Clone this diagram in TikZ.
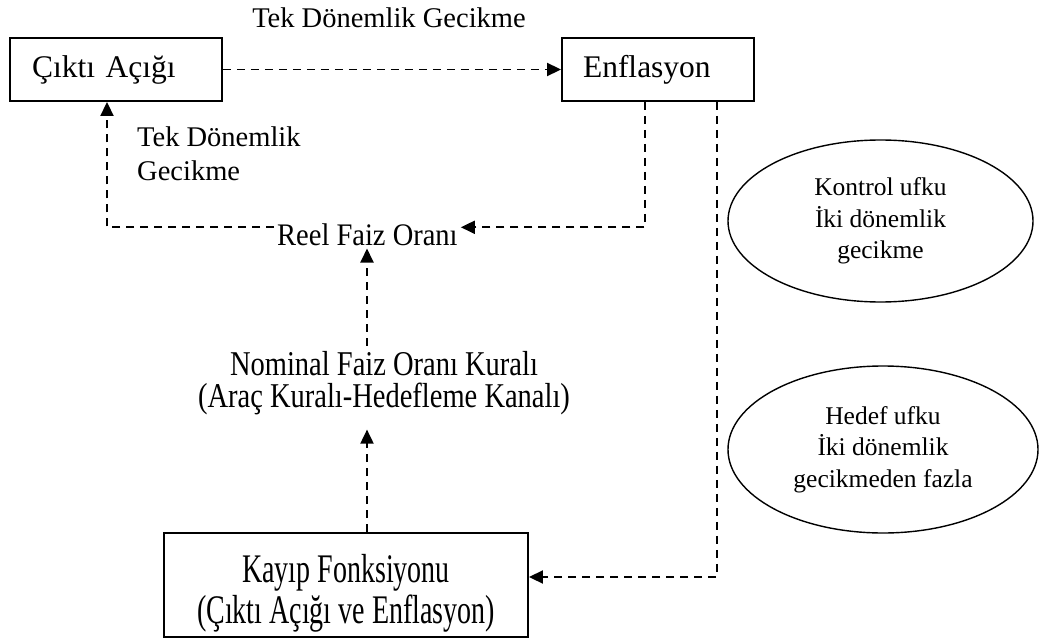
\documentclass[tikz,border=0pt]{standalone}
\usepackage{fontspec}
\setmainfont{Liberation Serif}
\usetikzlibrary{arrows.meta,shapes.geometric}
\tikzset{
  conn/.style={line width=1.9pt, dash pattern=on 8pt off 6pt, -{Triangle[length=14pt,width=13pt]}},
  boxa/.style={draw, line width=1.9pt, rectangle, inner ysep=0pt, align=left},
  txt/.style={inner sep=3pt, font=\fontsize{28.5}{33}\selectfont},
  ell/.style={draw, line width=1.4pt, ellipse, inner sep=0pt, align=center, font=\fontsize{25.5}{31.5}\selectfont}
}
\newcommand{\vstr}[2]{\scalebox{1}[#1]{#2}}
\begin{document}
\begin{tikzpicture}[x=1pt,y=1pt]
\useasboundingbox (0,0) rectangle (1043,-639);
% boxes
\node[boxa, inner xsep=22pt, text width=168pt, minimum height=63pt, font=\fontsize{31.5}{36}\selectfont] (cikti) at (116,-69.5) {Çıktı Açığı};
\node[boxa, inner xsep=21pt, text width=150pt, minimum height=63pt, font=\fontsize{31.5}{36}\selectfont] (enf) at (658,-69.5) {Enflasyon};
\node[boxa, align=center, minimum width=364pt, minimum height=104pt, inner xsep=0pt, font=\fontsize{28}{41}\selectfont] (kayip) at (346,-585) {\rule{0pt}{44pt}\vstr{1.45}{Kayıp Fonksiyonu}\\\vstr{1.45}{(Çıktı Açığı ve Enflasyon)}};
% text labels
\node[txt, anchor=base] (top) at (389,-28) {Tek Dönemlik Gecikme};
\node[txt, anchor=base west, align=left, inner sep=0pt] (lag) at (137,-180) {Tek Dönemlik\\Gecikme};
\node[txt, anchor=base west] (reel) at (274,-245) {\vstr{1.1}{Reel Faiz Oranı}};
\node[txt, anchor=base, align=center, font=\fontsize{28.5}{32}\selectfont] (nom) at (384,-407) {\vstr{1.22}{Nominal Faiz Oranı Kuralı}\\\vstr{1.22}{(Araç Kuralı-Hedefleme Kanalı)}};
% ellipses
\node[ell, minimum width=305pt, minimum height=162pt] (kontrol) at (880.5,-221) {Kontrol ufku\\İki dönemlik\\gecikme};
\node[ell, minimum width=310pt, minimum height=167pt] (hedef) at (883,-449.5) {Hedef ufku\\İki dönemlik\\gecikmeden fazla};
% helper coordinates
\coordinate (c1) at (645,0);
\coordinate (c2) at (107,0);
\coordinate (c3) at (367,0);
\coordinate (c4) at (717,0);
% connectors
\draw[conn] (cikti.east) -- (enf.west);
\draw[conn] (enf.south -| c1) |- ([yshift=7pt]reel.east);
\draw[conn] ([yshift=7pt]reel.west) -| (cikti.south -| c2);
\draw[conn] ([yshift=2pt]nom.north -| c3) -- (reel.south -| c3);
\draw[conn] (kayip.north -| c3) -- ([yshift=-12pt]nom.south -| c3);
\draw[conn] (enf.south -| c4) |- ([yshift=8pt]kayip.east);
\end{tikzpicture}
\end{document}
